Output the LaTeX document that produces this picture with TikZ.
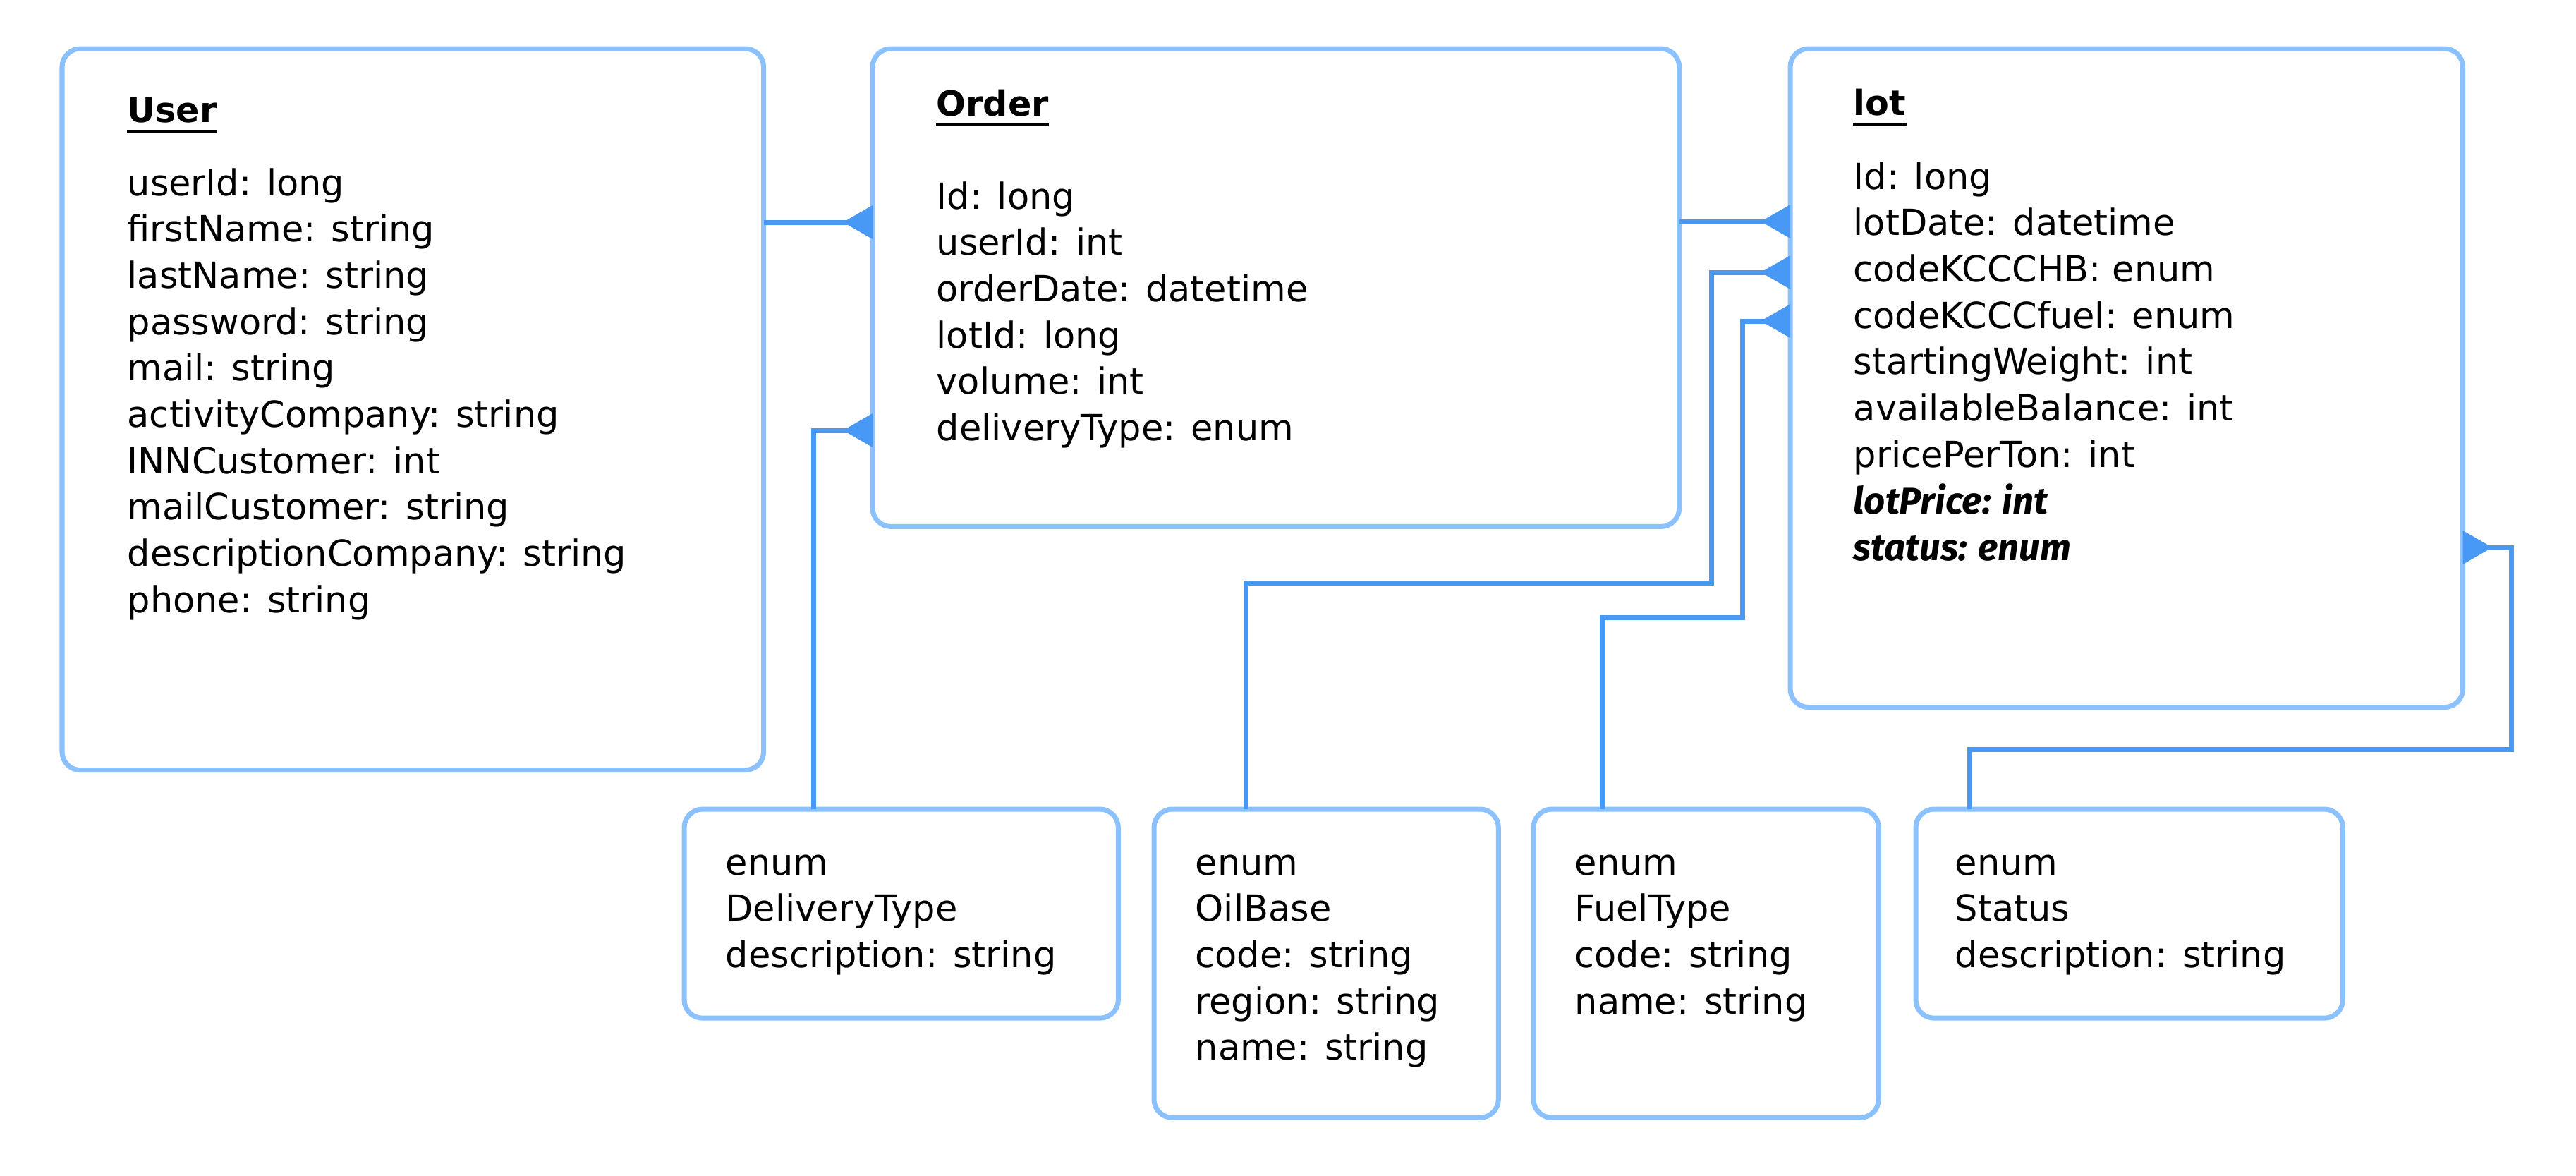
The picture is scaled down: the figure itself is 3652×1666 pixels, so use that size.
\documentclass[tikz,border=0pt]{standalone}
\usepackage{fontspec}
\setmainfont{DejaVu Sans}
\newfontfamily\notefont{Fira Sans}
\usetikzlibrary{arrows.meta}
\definecolor{boxblue}{HTML}{8CC1FF}
\definecolor{linkblue}{HTML}{4799F5}

\begin{document}
\begin{tikzpicture}[x=0.01cm, y=-0.01cm,
    entity/.style={draw=boxblue, line width=0.7mm, rounded corners=2.6mm, inner sep=0pt, outer sep=0pt, anchor=north west},
    link/.style={draw=linkblue, line width=0.7mm, -{Triangle[reversed, length=4.2mm, width=4.6mm]}},
    attr/.style={anchor=base west, inner sep=0pt, font=\fontsize{14.5}{18}\selectfont},
    ttl/.style={anchor=base west, inner sep=0pt, font=\fontsize{14}{18}\selectfont\bfseries},
    key/.style={anchor=base west, inner sep=0pt, font=\fontsize{15}{18}\notefont\bfseries\itshape},
    uline/.style={line width=1.1pt}]
    \path[use as bounding box, fill=white] (0,0) rectangle (3652,1666);

    \node[entity, minimum width=9.94cm, minimum height=10.22cm] (user) at (88,69) {};
    \node[entity, minimum width=11.43cm, minimum height=6.77cm] (order) at (1237,69) {};
    \node[entity, minimum width=9.53cm, minimum height=9.33cm] (lot) at (2538,69) {};
    \node[entity, minimum width=6.15cm, minimum height=2.96cm] (dtype) at (970,1147) {};
    \node[entity, minimum width=4.88cm, minimum height=4.37cm] (oil) at (1636,1147) {};
    \node[entity, minimum width=4.89cm, minimum height=4.37cm] (fuel) at (2174,1147) {};
    \node[entity, minimum width=6.05cm, minimum height=2.96cm] (status) at (2716,1147) {};

    % titles
    \node[ttl] (ut) at (180,173) {User};
    \node[ttl] (ot) at (1327,164) {Order};
    \node[ttl] (lt) at (2627,163) {lot};
    \foreach \n in {ut,ot,lt}{\draw[uline] ([yshift=-0.13cm]\n.base west) -- ([yshift=-0.13cm]\n.base east);}

    \foreach \t [count=\i from 0] in {userId: long, firstName: string, lastName: string, password: string, mail: string, activityCompany: string, INNCustomer: int, mailCustomer: string, descriptionCompany: string, phone: string}
      \node[attr] (u\i) at (180,277+\i*65.7) {\t};
    \foreach \t [count=\i from 0] in {Id: long, userId: int, orderDate: datetime, lotId: long, volume: int, deliveryType: enum}
      \node[attr] (o\i) at (1327,296+\i*65.7) {\t};
    \foreach \t [count=\i from 0] in {Id: long, lotDate: datetime, codeKCCCHB: enum, codeKCCCfuel: enum, startingWeight: int, availableBalance: int, pricePerTon: int}
      \node[attr] (l\i) at (2627,268+\i*65.7) {\t};
    \node[key] (l7) at (2627,728) {lotPrice: int};
    \node[key] (l8) at (2627,794) {status: enum};

    % enums
    \foreach \t [count=\i from 0] in {enum, DeliveryType, description: string}
      \node[attr] (d\i) at (1028,1240+\i*65.7) {\t};
    \foreach \t [count=\i from 0] in {enum, OilBase, code: string, region: string, name: string}
      \node[attr] (b\i) at (1694,1240+\i*65.7) {\t};
    \foreach \t [count=\i from 0] in {enum, FuelType, code: string, name: string}
      \node[attr] (f\i) at (2232,1240+\i*65.7) {\t};
    \foreach \t [count=\i from 0] in {enum, Status, description: string}
      \node[attr] (s\i) at (2771,1240+\i*65.7) {\t};

    % links
    \draw[link] (user.east |- 0,315) -- (order.west |- 0,315);
    \draw[link] (dtype.north -| 1153,0) |- (order.west |- 0,610);
    \draw[link] (order.east |- 0,314) -- (lot.west |- 0,314);
    \draw[link] (oil.north -| 1766,0) |- (2426,826) |- (lot.west |- 0,386);
    \draw[link] (fuel.north -| 2271,0) |- (2470,875) |- (lot.west |- 0,455);
    \draw[link] (status.north -| 2792,0) |- (3560,1062) |- (lot.east |- 0,776);
\end{tikzpicture}
\end{document}
